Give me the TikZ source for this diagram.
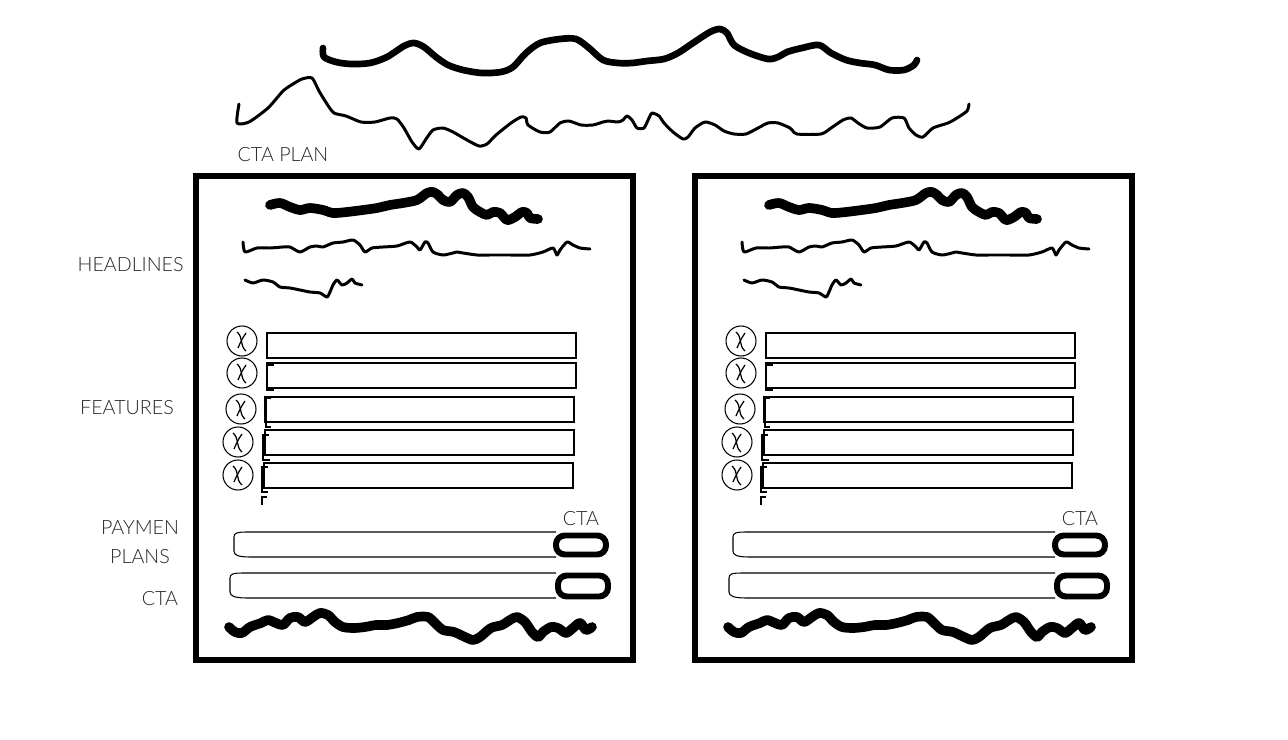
\documentclass[tikz,border=0pt]{standalone}
\usepackage{fontspec}
\setmainfont{Lato}[UprightFont={* Light}]
\usetikzlibrary{positioning}

\begin{document}
\begin{tikzpicture}[x=0.02cm, y=-0.02cm, node distance=0.2cm,
  label text/.style={font=\fontsize{11.2}{13}\selectfont, text=black!85, inner sep=0pt},
  frame line/.style={line width=2.9pt},
  heavy scribble/.style={line width=5.5pt, line cap=round, line join=round},
  light scribble/.style={line width=1.7pt, line cap=round, line join=round},
  feature box/.style={line width=0.8pt},
  bullet ring/.style={line width=0.6pt},
  plan bar/.style={line width=0.6pt},
  cta button/.style={draw, line width=3.4pt, rounded corners=5pt, fill=white,
                     minimum width=1cm, inner sep=0pt}]
  \useasboundingbox (0,0) rectangle (1288,740);

  % title scribbles
  \draw[line width=3.8pt, line cap=round, line join=round] plot[smooth, tension=0.5] coordinates {
    (323,48) (324,57) (336,62) (351,64) (370,63) (387,57) (404,46) (414,43) (424,47)
    (436,57) (448,65) (463,70) (482,73) (501,72) (513,67) (526,53) (540,43) (560,39)
    (576,39) (589,48) (603,60) (618,63) (632,63) (647,61) (664,59) (678,53) (693,43)
    (710,32) (720,29) (727,33) (734,45) (749,53) (768,59) (778,57) (787,52) (802,48)
    (819,45) (831,53) (846,60) (860,63) (875,65) (889,70) (904,70) (914,65) (917,60)};
  \draw[light scribble] plot[smooth, tension=0.4] coordinates {
    (239,104) (237,123) (249,122) (268,108) (283,91) (293,84) (302,79) (312,78) (319,91)
    (327,104) (334,113) (346,116) (361,122) (375,122) (390,118) (397,119) (404,128)
    (412,142) (419,149) (426,139) (433,130) (443,128) (453,132) (467,140) (479,146)
    (487,144) (496,135) (511,123) (521,117) (526,118) (528,125) (540,132) (550,132)
    (560,123) (569,121) (581,125) (593,125) (603,122) (608,121) (618,122) (623,120)
    (627,116) (632,120) (637,128) (644,128) (649,118) (652,113) (659,116) (664,123)
    (673,132) (683,139) (688,137) (695,128) (705,122) (715,125) (724,131) (734,134)
    (746,134) (758,128) (768,123) (778,123) (790,128) (797,134) (821,134) (831,128)
    (843,120) (851,118) (858,123) (867,128) (880,127) (892,118) (904,118) (909,128)
    (916,135) (923,137) (933,128) (948,123) (957,118) (967,111) (969,104)};

  % row labels
  \node[label text] (ctaplan) at (283,155) {CTA PLAN};
  \node[label text, anchor=east] (headlines) at (184,265) {HEADLINES};
  \node[label text] (features) at (127,408) {FEATURES};
  \node[label text] (paymen) at (140,528) {PAYMEN};
  \node[label text] (plans) at (140,557) {PLANS};
  \node[label text] (ctarow) at (160,599) {CTA};

  % the two plan cards
  \foreach \p/\dx in {l/0, r/499} {
    \begin{scope}[shift={(\dx,0)}]
      \draw[frame line] (196,176) rectangle (633,660);

      % headlines
      \draw[heavy scribble] plot[smooth, tension=0.5] coordinates {
        (270,205) (280,203) (290,207) (300,210) (310,208) (323,210) (333,213) (347,212)
        (363,210) (377,208) (390,205) (403,203) (417,200) (427,193) (433,192) (438,195)
        (443,200) (450,202) (457,195) (463,193) (468,197) (473,207) (480,212) (487,215)
        (493,212) (500,213) (507,220) (515,217) (522,212) (527,213) (530,218) (538,219)};
      \draw[light scribble] plot[smooth, tension=0.4] coordinates {
        (243,242) (245,252) (257,248) (270,248) (283,247) (290,247) (300,252) (310,247)
        (317,246) (323,247) (333,243) (343,242) (353,240) (360,245) (365,252) (372,248)
        (383,247) (397,246) (410,242) (417,247) (420,250) (425,242) (428,243) (433,252)
        (443,255) (453,253) (457,252) (463,253) (477,255) (490,255) (510,255) (530,255)
        (543,252) (553,248) (557,255) (560,250) (567,242) (573,245) (580,248) (590,249)};
      \draw[light scribble] plot[smooth, tension=0.4] coordinates {
        (245,280) (253,283) (263,280) (273,282) (280,287) (290,288) (300,290) (310,292)
        (320,293) (327,297) (330,292) (333,285) (337,280) (342,285) (347,283) (352,279)
        (355,283) (362,285)};

      % features
      \foreach \cx/\cy/\bx/\by in {242/341/267/333, 242/373/267/363, 241/409/265/397,
                                   238/442/265/430, 238/475/264/463} {
        \draw[bullet ring] (\cx,\cy) circle[radius=15];
        \draw[line width=0.7pt] ({\cx-5},{\cy-9}) .. controls ({\cx+2},{\cy-3}) and ({\cx-3},{\cy+4}) .. ({\cx+4},{\cy+10});
        \draw[line width=0.7pt] ({\cx+4},{\cy-8}) .. controls ({\cx},{\cy-2}) .. ({\cx-4},{\cy+7});
        \draw[feature box] (\bx,\by) rectangle ({\bx+309},{\by+25});
      }
      \draw[feature box] (274,365) -- (267,365) -- (267,390) -- (274,390);
      \draw[feature box] (271,398) -- (266,398) -- (266,427) -- (271,427);
      \draw[feature box] (269,435) -- (263,435) -- (263,460) -- (270,460);
      \draw[feature box] (268,467) -- (262,467) -- (262,492) -- (268,492);
      \draw[feature box] (262,505) -- (262,497) -- (267,497);

      % payment plans
      \draw[plan bar] (556,532) -- (247,532) .. controls (237,532) and (234,533) .. (234,537)
        -- (234,551) .. controls (234,555) and (238,557) .. (250,557) -- (556,557);
      \draw[plan bar] (556,573) -- (243,573) .. controls (233,573) and (230,574) .. (230,578)
        -- (230,592) .. controls (230,596) and (235,598) .. (247,598) -- (556,598);
      \node[cta button, minimum height=0.38cm] (btn1-\p) at (581,545) {};
      \node[cta button, minimum height=0.42cm] (btn2-\p) at (583,586) {};
      \node[label text, above=0.14cm of btn1-\p] (cta-\p) {CTA};

      % footer
      \draw[heavy scribble] plot[smooth, tension=0.5] coordinates {
        (229,627) (235,632) (242,633) (250,627) (261,623) (268,620) (276,623) (283,625)
        (290,618) (298,617) (305,622) (313,617) (320,613) (328,615) (335,622) (343,627)
        (354,628) (365,627) (376,625) (387,625) (398,623) (409,620) (417,617) (428,617)
        (435,623) (443,630) (454,632) (465,637) (473,640) (480,637) (491,628) (502,625)
        (510,620) (517,617) (525,622) (532,632) (538,637) (543,632) (551,627) (558,628)
        (566,633) (573,628) (580,623) (586,630) (592,627)};
    \end{scope}
  }
\end{tikzpicture}
\end{document}
